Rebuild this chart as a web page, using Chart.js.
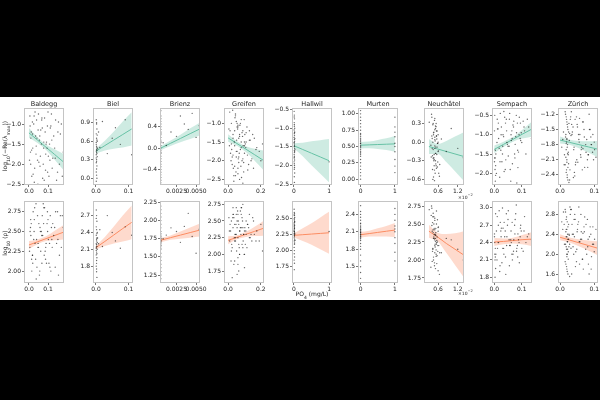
<!DOCTYPE html>
<html>
<head>
<meta charset="utf-8">
<script src="https://cdn.jsdelivr.net/npm/chart.js@4.4.0/dist/chart.umd.min.js"></script>
<style>
body { margin: 0; background: #000; width: 600px; height: 400px; overflow: hidden; position: relative; font-family: "DejaVu Sans", sans-serif; color: #222; }
#sheet { position: absolute; left: 0; top: 97px; width: 600px; height: 203px; background: #fff; }
canvas { position: absolute; z-index: 1; }
.title { position: absolute; font-size: 6.5px; width: 70px; text-align: center; top: 100px; z-index: 2; }
.lab { position: absolute; font-size: 6px; white-space: nowrap; z-index: 2; }
.lab sub { font-size: 4.5px; }
.off { position: absolute; font-size: 4.5px; z-index: 2; }
.off sup { font-size: 3.5px; }
</style>
</head>
<body>
<div id="sheet"></div>
<div class="lab" style="left:6px;top:146px;transform:translate(-50%,-50%) rotate(-90deg)">log<sub>10</sub>(−Re(λ<sub>max</sub>))</div>
<div class="lab" style="left:6px;top:243px;transform:translate(-50%,-50%) rotate(-90deg)">log<sub>10</sub> (ρ)</div>
<div class="lab" style="left:312px;top:295px;transform:translate(-50%,-50%)">PO<sub>4</sub> (mg/L)</div>
<div class="off" style="left:458px;top:193px">×10<sup>−2</sup></div>
<div class="off" style="left:458px;top:289px">×10<sup>−2</sup></div>
<script>
// Lakes (one column each)
const lakes = ['Baldegg', 'Biel', 'Brienz', 'Greifen', 'Hallwil', 'Murten', 'Neuchâtel', 'Sempach', 'Zürich'];

// PO4 per sample, log10(-Re(lambda_max)) and log10(rho) per sample
const baldeggX = [0.005,0.012,0.02,0.03,0.04,0.055,0.06,0.07,0.08,0.09,0.1,0.11,0.13,0.15,0.17,
  0.008,0.015,0.025,0.035,0.045,0.05,0.065,0.075,0.085,0.095,0.105,0.12,0.14,0.16,0.18,
  0.01,0.018,0.028,0.038,0.048,0.058,0.068,0.078,0.088,0.098,0.115,0.125,0.145,0.165,0.003,
  0.006,0.014,0.022,0.032,0.042,0.052,0.062,0.072,0.082,0.092,0.102,0.112,0.122,0.135,0.155,
  0.009,0.019,0.027,0.037,0.047,0.057,0.067,0.077,0.087,0.097,0.108,0.118,0.138,0.152,0.175];
const baldeggLam = [-0.8,-1.2,-1.6,-2.1,-0.9,-1.4,-1.8,-1.1,-2.4,-1.5,-0.7,-1.9,-1.3,-2.2,-1.0,
  -1.7,-2.3,-1.0,-1.3,-1.9,-0.75,-1.5,-2.0,-1.2,-1.6,-2.3,-1.4,-0.9,-2.0,-1.7,
  -1.35,-0.95,-2.45,-1.55,-1.15,-2.05,-0.85,-1.45,-1.75,-2.2,-1.05,-1.85,-2.4,-1.25,-1.9,
  -1.05,-1.65,-2.25,-0.7,-1.35,-1.95,-1.15,-2.35,-0.85,-1.45,-1.8,-1.1,-2.1,-1.6,-0.95,
  -2.0,-1.25,-0.8,-1.75,-2.5,-1.3,-0.9,-1.6,-2.15,-1.05,-1.5,-0.75,-1.85,-1.2,-2.3];
const baldeggRho = [2.3,2.6,2.1,2.8,2.4,1.95,2.5,2.7,2.2,2.35,2.65,2.05,2.45,2.75,2.3,
  2.55,2.0,2.4,2.15,2.7,2.3,2.5,2.85,2.25,2.6,2.1,2.4,2.75,2.2,2.55,
  2.45,2.2,2.65,1.9,2.35,2.55,2.1,2.8,2.3,2.5,2.0,2.6,2.35,2.7,2.25,
  2.5,2.15,2.75,2.35,2.05,2.6,2.25,2.45,2.8,2.1,2.4,2.7,2.3,2.55,1.95,
  2.65,2.2,2.5,2.85,2.3,2.0,2.45,2.6,2.15,2.75,2.35,2.55,2.05,2.4,2.7];

const bielX = [0.001,0.002,0.003,0.001,0.002,0.004,0.001,0.003,0.002,0.001,
  0.002,0.003,0.001,0.004,0.002,0.001,0.003,0.002,0.001,0.002,
  0.003,0.001,0.002,0.004,0.001,0.002,0.003,0.001,0.002,0.003,
  0.005,0.008,0.012,0.02,0.035,0.05,0.06,0.075,0.09,0.11];
const bielLam = [0.95,0.88,0.8,0.72,0.65,0.6,0.55,0.5,0.47,0.44,
  0.42,0.4,0.38,0.35,0.3,0.25,0.2,0.15,0.1,0.05,
  0.0,-0.05,0.9,0.7,0.58,0.52,0.45,0.33,0.27,0.62,
  0.48,0.75,0.5,0.92,0.4,0.65,0.82,0.55,0.95,0.38];
const bielRho = [2.8,2.7,2.6,2.5,2.45,2.4,2.35,2.3,2.25,2.2,
  2.18,2.15,2.12,2.1,2.05,2.0,1.95,1.9,1.8,1.7,
  1.6,2.65,2.28,2.22,2.08,1.85,2.38,2.14,1.75,2.02,
  2.3,2.2,2.45,2.15,2.7,2.4,2.25,2.12,2.5,2.35];

const brienzX = [0.0005,0.0005,0.0005,0.0005,0.0005,0.0005,0.0005,0.0005,0.0005,0.0005,
  0.0005,0.0005,0.0005,0.0005,0.0005,0.0005,0.0005,0.0005,0.0005,0.0005,
  0.0005,0.0005,0.0005,0.0005,0.0005,0.0005,0.0005,0.0005,0.0005,0.0005,
  0.0008,0.0012,0.0018,0.0025,0.003,0.0035,0.004,0.0045,0.005,0.0054];
const brienzLam = [0.7,0.6,0.5,0.45,0.4,0.35,0.3,0.25,0.2,0.15,
  0.1,0.05,0.0,-0.05,-0.1,-0.15,-0.2,-0.25,-0.3,-0.35,
  -0.4,-0.45,-0.5,-0.55,-0.6,-0.65,0.55,0.12,-0.08,0.28,
  0.1,0.05,0.3,0.22,0.6,0.45,0.35,0.65,0.2,0.42];
const brienzRho = [2.2,2.1,2.05,2.0,1.95,1.9,1.85,1.8,1.78,1.75,
  1.72,1.7,1.68,1.65,1.6,1.55,1.5,1.45,1.4,1.35,
  1.3,1.25,1.2,1.82,1.76,1.73,1.71,1.66,2.15,1.62,
  1.75,1.8,1.9,1.85,1.7,1.92,2.1,1.78,1.55,1.88];

const greifenX = [0.01,0.02,0.03,0.04,0.05,0.06,0.07,0.08,0.09,0.1,
  0.015,0.025,0.035,0.045,0.055,0.065,0.075,0.085,0.095,0.11,
  0.02,0.03,0.04,0.05,0.06,0.07,0.08,0.09,0.12,0.13,
  0.005,0.035,0.045,0.055,0.065,0.075,0.1,0.14,0.15,0.17,
  0.025,0.04,0.06,0.08,0.1,0.115,0.125,0.16,0.19,0.21,
  0.012,0.022,0.032,0.042,0.052,0.062,0.072,0.082,0.092,0.102,
  0.018,0.028,0.038,0.048,0.058,0.068,0.078,0.088,0.098,0.108,
  0.03,0.045,0.055,0.065,0.085,0.095,0.105,0.118,0.135,0.155,
  0.008,0.05,0.07,0.09,0.11,0.13,0.145,0.175,0.2,0.06];
const greifenLam = [-0.7,-1.0,-1.3,-1.6,-1.9,-2.2,-2.5,-0.9,-1.2,-1.5,
  -1.8,-2.1,-2.4,-0.8,-1.1,-1.4,-1.7,-2.0,-2.3,-1.25,
  -1.55,-1.85,-2.15,-0.95,-1.05,-1.35,-1.65,-1.95,-2.25,-1.45,
  -1.15,-2.55,-0.75,-1.75,-2.05,-1.0,-1.6,-2.0,-1.3,-1.7,
  -1.9,-1.2,-2.35,-1.5,-1.8,-1.1,-2.1,-1.4,-1.75,-1.55,
  -1.2,-1.7,-2.2,-0.85,-1.45,-1.95,-1.05,-2.45,-1.6,-1.3,
  -2.0,-0.65,-1.5,-2.3,-1.15,-1.8,-2.15,-1.35,-0.9,-1.65,
  -1.4,-2.4,-1.0,-1.9,-1.25,-2.05,-1.55,-1.85,-1.45,-2.2,
  -1.6,-1.75,-1.3,-2.6,-1.5,-1.2,-1.95,-1.65,-2.0,-1.1];
const greifenRho = [2.2,2.5,2.7,1.9,2.3,2.6,2.0,2.4,2.75,1.8,
  2.35,2.1,2.55,2.25,1.7,2.45,2.65,2.15,2.3,2.5,
  2.05,2.4,2.2,2.6,1.95,2.35,2.7,2.1,2.45,2.25,
  2.55,1.85,2.3,2.5,2.15,2.4,2.0,2.3,2.55,2.2,
  1.65,2.45,2.25,2.6,2.35,2.1,2.4,2.3,2.2,2.05,
  2.45,2.15,2.6,2.3,2.05,2.5,2.35,2.7,2.2,2.4,
  1.9,2.55,2.25,2.45,2.65,2.1,2.3,2.5,2.0,2.35,
  2.6,2.2,2.4,1.75,2.55,2.3,2.15,2.45,2.25,2.5,
  2.35,2.7,2.0,2.4,2.3,2.6,2.2,2.35,2.45,1.85];

const hallwilX = [0.005,0.01,0.015,0.008,0.012,0.02,0.006,0.018,0.01,0.014,
  0.004,0.011,0.016,0.009,0.013,0.007,0.019,0.01,0.015,0.006,
  0.012,0.008,0.017,0.005,0.014,0.01,0.02,0.009,0.013,0.007,
  0.011,0.016,0.006,0.012,0.018,0.008,0.01,0.015,0.025,0.03,
  1.0];
const hallwilLam = [-0.55,-0.65,-0.75,-0.85,-0.95,-1.0,-1.05,-1.1,-1.15,-1.2,
  -1.25,-1.3,-1.35,-1.4,-1.45,-1.5,-1.55,-1.6,-1.65,-1.7,
  -1.75,-1.8,-1.85,-1.9,-2.0,-2.1,-2.2,-2.3,-2.45,-0.7,
  -0.9,-1.12,-1.38,-1.48,-1.62,-1.78,-1.95,-2.05,-1.28,-1.58,
  -1.9];
const hallwilRho = [2.65,2.6,2.55,2.5,2.48,2.45,2.42,2.4,2.38,2.35,
  2.32,2.3,2.28,2.25,2.22,2.2,2.18,2.15,2.1,2.05,
  2.0,1.95,1.9,1.85,1.8,1.7,2.52,2.44,2.36,2.27,
  2.24,2.12,2.56,2.34,2.46,2.3,2.4,2.58,2.26,2.16,
  2.3];

const murtenX = [0,0,0,0,0,0,0,0,0,0,
  0,0,0,0,0,0,0,0,0,0,
  0,0,0,0,0,0,0,0,0,0,
  1,1,1,1,1,1,1,1,1,1];
const murtenLam = [1.05,1.0,0.95,0.9,0.85,0.8,0.75,0.7,0.65,0.6,
  0.55,0.5,0.45,0.4,0.35,0.3,0.25,0.2,0.15,0.1,
  0.05,0.0,0.62,0.48,0.52,0.58,0.42,0.68,0.38,0.55,
  0.95,0.8,0.65,0.55,0.5,0.42,0.3,0.2,0.1,0.72];
const murtenRho = [2.55,2.45,2.4,2.35,2.3,2.25,2.2,2.15,2.1,2.08,
  2.05,2.02,2.0,1.95,1.9,1.85,1.8,1.7,1.6,1.5,
  1.4,1.3,2.12,2.06,2.18,2.03,1.98,2.24,2.14,2.09,
  2.5,2.4,2.3,2.2,2.15,2.1,2.0,1.9,1.75,1.6];

// Neuchâtel PO4 is in units of 1e-2 mg/L
const neuchatelX = [0.4,0.45,0.5,0.55,0.6,0.42,0.48,0.52,0.58,0.62,
  0.44,0.5,0.54,0.46,0.56,0.38,0.6,0.47,0.53,0.49,
  0.41,0.57,0.51,0.45,0.55,0.43,0.59,0.5,0.52,0.48,
  0.33,0.64,0.46,0.54,0.5,0.7,0.85,1.0,1.2,1.37,
  0.41,0.44,0.47,0.5,0.53,0.56,0.59,0.43,0.46,0.49,
  0.52,0.55,0.58,0.61,0.45,0.48,0.51,0.54,0.57,0.42,
  0.5,0.53,0.47,0.55,0.44,0.6,0.39,0.65,0.52,0.49];
const neuchatelLam = [0.45,0.3,0.2,0.1,0.0,-0.1,-0.2,-0.3,-0.4,-0.5,
  -0.6,0.38,0.25,0.15,0.05,-0.05,-0.15,-0.25,-0.35,-0.45,
  0.1,-0.08,0.02,-0.12,0.18,-0.22,-0.02,0.08,-0.18,-0.28,
  0.32,-0.55,0.12,-0.38,-0.1,0.05,-0.15,0.22,-0.1,-0.25,
  0.4,0.28,0.16,0.04,-0.08,-0.2,-0.32,-0.44,-0.56,0.35,
  0.22,0.1,-0.02,-0.14,-0.26,-0.38,-0.5,0.3,0.18,0.06,
  -0.06,-0.18,-0.3,-0.42,0.0,0.12,-0.24,-0.36,0.26,-0.62];
const neuchatelRho = [2.75,2.65,2.55,2.5,2.45,2.4,2.35,2.3,2.25,2.2,
  2.15,2.1,2.05,2.0,1.95,1.9,1.85,2.6,2.38,2.28,
  2.48,2.32,2.18,2.42,2.22,2.52,2.12,2.36,2.26,2.44,
  2.7,1.8,2.3,2.08,2.2,2.1,2.3,2.28,2.15,2.0,
  2.72,2.6,2.5,2.42,2.34,2.27,2.2,2.12,2.04,1.96,
  1.88,2.68,2.56,2.46,2.38,2.3,2.22,2.14,2.06,1.98,
  2.58,2.44,2.32,2.24,2.16,2.4,2.62,2.1,2.35,1.92];

const sempachX = [0.002,0.005,0.01,0.015,0.02,0.025,0.03,0.035,0.04,0.045,
  0.05,0.055,0.06,0.065,0.07,0.075,0.08,0.085,0.09,0.095,
  0.1,0.11,0.12,0.135,0.003,0.008,0.012,0.018,0.028,0.038,
  0.048,0.058,0.068,0.078,0.088,0.098,0.105,0.115,0.125,0.004,
  0.022,0.042,0.062,0.082,0.032,
  0.001,0.006,0.011,0.016,0.021,0.026,0.031,0.036,0.041,0.046,
  0.051,0.056,0.061,0.066,0.071,0.076,0.081,0.086,0.091,0.096,
  0.002,0.004,0.003,0.001,0.005,0.014,0.024,0.034,0.044,0.054,
  0.064,0.074,0.084,0.094,0.108];
const sempachLam = [-0.5,-1.8,-1.2,-0.7,-2.1,-1.0,-1.5,-0.4,-1.9,-0.9,
  -1.3,-0.6,-2.2,-1.1,-0.8,-1.6,-0.5,-1.4,-1.0,-0.7,
  -1.2,-0.9,-0.6,-1.1,-1.6,-2.0,-0.85,-1.35,-1.7,-0.55,
  -1.25,-1.9,-0.75,-1.05,-1.45,-0.95,-0.65,-1.5,-0.8,-1.4,
  -0.45,-1.65,-1.15,-2.25,-1.0,
  -0.9,-1.5,-0.6,-1.1,-1.7,-0.8,-1.3,-1.95,-0.7,-1.2,
  -1.55,-0.45,-1.0,-1.75,-0.65,-1.25,-0.95,-1.85,-0.55,-1.15,
  -1.6,-2.2,-1.9,-1.7,-2.05,-0.85,-1.4,-1.05,-0.6,-1.3,
  -0.9,-1.5,-0.7,-1.1,-0.8];
const sempachRho = [2.4,2.9,2.1,2.7,1.9,2.5,3.0,2.2,2.6,2.35,
  2.8,2.0,2.45,2.75,2.25,2.55,3.05,2.15,2.4,2.65,
  2.3,2.85,2.5,2.45,1.8,2.6,2.3,2.95,2.05,2.5,
  2.7,2.35,2.2,2.9,2.45,2.6,2.25,2.4,2.55,2.15,
  2.75,1.85,2.4,2.3,2.65,
  2.55,2.2,2.85,2.4,2.0,2.65,2.3,2.75,2.15,2.5,
  2.95,2.35,2.6,2.1,2.45,2.8,2.25,2.55,2.05,2.7,
  2.2,2.3,2.1,2.5,1.95,2.4,2.6,2.3,2.9,2.45,
  2.2,2.7,2.35,2.5,2.6];

const zurichX = [0.015,0.018,0.02,0.022,0.025,0.016,0.019,0.021,0.024,0.017,
  0.02,0.023,0.018,0.021,0.026,0.03,0.035,0.04,0.045,0.05,
  0.055,0.06,0.065,0.07,0.075,0.08,0.085,0.09,0.095,0.1,
  0.105,0.01,0.005,0.028,0.033,0.038,0.042,0.048,0.052,0.058,
  0.062,0.068,0.072,0.078,0.082,0.088,0.092,0.098,0.012,0.027,
  0.032,0.043,0.057,0.067,0.11,
  0.016,0.019,0.021,0.023,0.017,0.02,0.022,0.018,0.024,0.02,
  0.015,0.019,0.021,0.023,0.026,0.028,0.018,0.022,0.025,0.02,
  0.031,0.036,0.041,0.046,0.051,0.056,0.061,0.066,0.071,0.076,
  0.081,0.086,0.091,0.096,0.101,0.008,0.013,0.029,0.034,0.039,
  0.044,0.049,0.054,0.063,0.083];
const zurichLam = [-1.15,-1.25,-1.35,-1.45,-1.55,-1.65,-1.75,-1.85,-1.95,-2.05,
  -2.15,-2.25,-2.35,-2.45,-2.55,-1.3,-1.6,-1.9,-2.2,-1.4,
  -1.7,-2.0,-2.3,-1.5,-1.8,-2.1,-1.2,-1.65,-1.95,-1.75,
  -2.05,-1.55,-1.85,-2.5,-1.15,-1.45,-2.35,-1.25,-2.15,-1.6,
  -1.9,-1.35,-2.25,-1.7,-2.0,-1.5,-1.8,-2.1,-2.2,-1.72,
  -1.62,-2.42,-1.28,-1.88,-1.98,
  -1.2,-1.3,-1.4,-1.5,-1.6,-1.7,-1.8,-1.9,-2.0,-2.1,
  -2.2,-2.3,-2.4,-2.5,-1.38,-1.58,-1.78,-1.98,-2.18,-1.68,
  -1.25,-1.55,-1.85,-2.15,-1.45,-1.75,-2.05,-1.35,-1.65,-1.95,
  -2.25,-1.5,-1.8,-1.6,-1.9,-1.7,-2.0,-2.3,-1.4,-2.45,
  -1.3,-2.1,-1.6,-1.85,-2.0];
const zurichRho = [2.9,2.7,2.5,2.4,2.3,2.2,2.1,2.0,1.9,1.8,
  1.7,1.6,2.35,2.25,2.15,2.8,2.6,2.0,1.75,2.45,
  2.95,2.3,1.9,2.55,2.1,2.7,1.6,2.4,2.2,2.05,
  2.5,2.85,2.65,1.55,2.9,2.15,2.35,1.85,2.6,2.25,
  2.45,1.7,2.75,2.0,2.3,2.55,1.95,2.2,2.6,2.38,
  2.12,2.8,1.8,2.42,2.25,
  2.85,2.75,2.65,2.55,2.45,2.35,2.25,2.15,2.05,1.95,
  1.85,1.75,1.65,2.3,2.4,2.2,2.5,2.1,2.6,2.0,
  2.9,2.4,2.7,2.05,2.5,2.25,2.8,1.9,2.45,2.6,
  2.15,2.35,1.7,2.55,2.3,2.5,2.2,2.95,1.6,2.4,
  2.7,2.1,2.65,2.3,1.8];

// Regression fits: x positions, fitted line, lower and upper 95% band
const baldeggFitX = [0, 0.045, 0.09, 0.135, 0.18];
const bielFitX = [0, 0.0275, 0.055, 0.0825, 0.11];
const brienzFitX = [0.0005, 0.00175, 0.003, 0.00425, 0.0055];
const greifenFitX = [0, 0.054, 0.108, 0.162, 0.215];
const hallwilFitX = [0, 0.25, 0.5, 0.75, 1.0];
const murtenFitX = [0, 0.25, 0.5, 0.75, 1.0];
const neuchatelFitX = [0.32, 0.585, 0.85, 1.115, 1.38];
const sempachFitX = [0, 0.034, 0.068, 0.101, 0.135];
const zurichFitX = [0, 0.0275, 0.055, 0.0825, 0.11];

const lamFit = [[-1.22,-1.40,-1.58,-1.76,-1.94], [0.44,0.53,0.62,0.71,0.80], [0.0,0.09,0.18,0.27,0.36],
  [-1.39,-1.54,-1.69,-1.84,-1.99], [-1.47,-1.57,-1.67,-1.77,-1.87], [0.52,0.525,0.53,0.535,0.54],
  [-0.07,-0.11,-0.15,-0.19,-0.23], [-1.38,-1.25,-1.12,-0.99,-0.86], [-1.71,-1.755,-1.80,-1.845,-1.89]];
const lamLo = [[-1.34,-1.47,-1.65,-1.89,-2.14], [0.40,0.45,0.48,0.50,0.53], [-0.04,0.04,0.11,0.17,0.24],
  [-1.49,-1.60,-1.77,-2.00,-2.25], [-1.54,-1.75,-1.99,-2.22,-2.45], [0.47,0.475,0.46,0.445,0.42],
  [-0.19,-0.19,-0.32,-0.47,-0.62], [-1.48,-1.32,-1.18,-1.10,-1.05], [-1.78,-1.805,-1.87,-1.955,-2.05]];
const lamHi = [[-1.10,-1.33,-1.51,-1.63,-1.74], [0.48,0.61,0.76,0.92,1.07], [0.04,0.14,0.25,0.37,0.48],
  [-1.29,-1.48,-1.61,-1.68,-1.73], [-1.40,-1.39,-1.35,-1.32,-1.29], [0.57,0.575,0.60,0.625,0.66],
  [0.05,-0.03,0.02,0.09,0.16], [-1.28,-1.18,-1.06,-0.88,-0.67], [-1.64,-1.705,-1.73,-1.735,-1.73]];

const rhoFit = [[2.33,2.37,2.41,2.45,2.49], [2.13,2.24,2.355,2.47,2.58], [1.73,1.765,1.80,1.835,1.87],
  [2.21,2.255,2.30,2.345,2.39], [2.24,2.25,2.26,2.27,2.28], [2.05,2.07,2.09,2.11,2.13],
  [2.40,2.32,2.23,2.15,2.07], [2.41,2.42,2.435,2.45,2.46], [2.34,2.285,2.23,2.175,2.12]];
const rhoLo = [[2.28,2.34,2.38,2.39,2.40], [2.10,2.16,2.205,2.24,2.28], [1.70,1.735,1.75,1.765,1.78],
  [2.15,2.225,2.26,2.275,2.28], [2.21,2.15,2.09,2.02,1.95], [2.0,2.02,2.02,2.02,2.01],
  [2.31,2.26,2.10,1.93,1.76], [2.34,2.37,2.385,2.37,2.34], [2.28,2.235,2.16,2.075,1.98]];
const rhoHi = [[2.38,2.40,2.44,2.51,2.58], [2.16,2.32,2.505,2.70,2.88], [1.76,1.795,1.85,1.905,1.96],
  [2.27,2.285,2.34,2.415,2.50], [2.27,2.35,2.43,2.52,2.61], [2.10,2.12,2.16,2.20,2.25],
  [2.49,2.38,2.36,2.37,2.40], [2.48,2.47,2.485,2.53,2.58], [2.40,2.335,2.30,2.275,2.26]];

// Axis limits and tick labels
const xLims = [[-0.026,0.184], [-0.009,0.114], [0.0004,0.0055], [-0.025,0.219], [-0.056,1.083],
  [-0.075,1.09], [0.17,1.39], [-0.008,0.137], [-0.006,0.111]];
const xTicks = [[0,0.1], [0,0.1], [0.0025,0.005], [0,0.2], [0,1], [0,1], [0.6,1.2], [0,0.1], [0,0.1]];
const xDec = [1, 1, 4, 1, 0, 0, 1, 1, 1];

const lamLims = [[-2.52,-0.6], [-0.11,1.14], [-0.69,0.75], [-2.65,-0.59], [-2.52,-0.46],
  [-0.09,1.09], [-0.69,0.55], [-2.30,-0.31], [-2.6,-1.075]];
const lamTicks = [[-2.5,-2,-1.5,-1], [0,0.3,0.6,0.9], [-0.4,0,0.4], [-2.5,-2,-1.5,-1], [-2.5,-2,-1.5,-1,-0.5],
  [0,0.25,0.5,0.75,1], [-0.6,-0.3,0,0.3], [-2,-1.5,-1,-0.5], [-2.4,-2.1,-1.8,-1.5,-1.2]];
const lamDec = [1, 1, 1, 1, 1, 2, 1, 1, 1];

const rhoLims = [[1.85,2.885], [1.50,2.96], [1.14,2.27], [1.57,2.80], [1.49,2.78],
  [1.22,2.63], [1.68,2.82], [1.70,3.12], [1.42,3.07]];
const rhoTicks = [[2,2.25,2.5,2.75], [1.8,2.1,2.4,2.7], [1.25,1.5,1.75,2,2.25], [1.75,2,2.25,2.5,2.75],
  [1.75,2,2.25,2.5], [1.5,1.8,2.1,2.4], [1.75,2,2.25,2.5,2.75], [1.8,2.1,2.4,2.7,3.0], [1.6,2.0,2.4,2.8]];
const rhoDec = [2, 1, 2, 2, 2, 1, 2, 1, 1];

const xs = [baldeggX, bielX, brienzX, greifenX, hallwilX, murtenX, neuchatelX, sempachX, zurichX];
const lamY = [baldeggLam, bielLam, brienzLam, greifenLam, hallwilLam, murtenLam, neuchatelLam, sempachLam, zurichLam];
const rhoY = [baldeggRho, bielRho, brienzRho, greifenRho, hallwilRho, murtenRho, neuchatelRho, sempachRho, zurichRho];
const fitXs = [baldeggFitX, bielFitX, brienzFitX, greifenFitX, hallwilFitX, murtenFitX, neuchatelFitX, sempachFitX, zurichFitX];

// Layout of the grid of axes
const COLS = [24, 93, 160, 224, 292, 358, 424, 492, 558];
const W = 40;
const ROWS = [{ top: 108, h: 77 }, { top: 201, h: 82 }];
const ML = 28, MR = 12, MT = 6, MB = 14;

function fmt(v, d) {
    return v.toFixed(d).replace('-', '\u2212');
}

// matplotlib-like box around each axes
const framePlugin = {
    id: 'frame',
    afterDatasetsDraw(chart) {
        const a = chart.chartArea;
        const c = chart.ctx;
        c.save();
        c.strokeStyle = '#c4c4c4';
        c.lineWidth = 1;
        c.strokeRect(Math.round(a.left) + 0.5, Math.round(a.top) + 0.5,
            Math.round(a.right - a.left) - 1, Math.round(a.bottom - a.top) - 1);
        c.restore();
    }
};

const tickFont = { family: 'DejaVu Sans', size: 6 };

function addPanel(i, row) {
    const L = COLS[i], T = ROWS[row].top, H = ROWS[row].h;
    const cv = document.createElement('canvas');
    cv.width = W + ML + MR;
    cv.height = H + MT + MB;
    cv.style.left = (L - ML) + 'px';
    cv.style.top = (T - MT) + 'px';
    document.body.appendChild(cv);

    const ys = row === 0 ? lamY[i] : rhoY[i];
    const fit = row === 0 ? lamFit[i] : rhoFit[i];
    const lo = row === 0 ? lamLo[i] : rhoLo[i];
    const hi = row === 0 ? lamHi[i] : rhoHi[i];
    const yl = row === 0 ? lamLims[i] : rhoLims[i];
    const yt = row === 0 ? lamTicks[i] : rhoTicks[i];
    const yd = row === 0 ? lamDec[i] : rhoDec[i];
    const color = row === 0 ? '#66c2a5' : '#fc8d62';
    const band = row === 0 ? 'rgba(102,194,165,0.32)' : 'rgba(252,141,98,0.32)';

    const pts = xs[i].map((x, k) => ({ x: x, y: ys[k] }));
    const fx = fitXs[i];
    const none = 'rgba(0,0,0,0)';

    new Chart(cv, {
        type: 'scatter',
        data: {
            datasets: [
                { data: pts, pointRadius: 0.7, pointBackgroundColor: 'rgba(0,0,0,0.6)', pointBorderWidth: 0 },
                { data: fx.map((x, k) => ({ x: x, y: hi[k] })), showLine: true, pointRadius: 0,
                  borderColor: none, borderWidth: 1, fill: '+1', backgroundColor: band, cubicInterpolationMode: 'monotone' },
                { data: fx.map((x, k) => ({ x: x, y: lo[k] })), showLine: true, pointRadius: 0,
                  borderColor: none, borderWidth: 1, fill: false, cubicInterpolationMode: 'monotone' },
                { data: fx.map((x, k) => ({ x: x, y: fit[k] })), showLine: true, pointRadius: 0,
                  borderColor: color, borderWidth: 1, fill: false }
            ]
        },
        options: {
            responsive: false,
            animation: false,
            devicePixelRatio: 1,
            layout: { padding: { top: MT, right: MR, left: 0, bottom: 0 } },
            plugins: { legend: { display: false }, tooltip: { enabled: false } },
            scales: {
                x: {
                    type: 'linear', min: xLims[i][0], max: xLims[i][1],
                    afterFit: s => { s.height = MB; },
                    afterBuildTicks: s => { s.ticks = xTicks[i].map(v => ({ value: v })); },
                    ticks: { callback: v => fmt(v, xDec[i]), font: tickFont, color: '#222', padding: 1, maxRotation: 0, autoSkip: false },
                    grid: { drawOnChartArea: false, color: none, tickColor: '#777', tickLength: 2 },
                    border: { display: false }
                },
                y: {
                    type: 'linear', min: yl[0], max: yl[1],
                    afterFit: s => { s.width = ML; },
                    afterBuildTicks: s => { s.ticks = yt.map(v => ({ value: v })); },
                    ticks: { callback: v => fmt(v, yd), font: tickFont, color: '#222', padding: 1, autoSkip: false },
                    grid: { drawOnChartArea: false, color: none, tickColor: '#777', tickLength: 2 },
                    border: { display: false }
                }
            }
        },
        plugins: [framePlugin]
    });
}

document.addEventListener('DOMContentLoaded', function() {
    lakes.forEach((name, i) => {
        const t = document.createElement('div');
        t.className = 'title';
        t.textContent = name;
        t.style.left = (COLS[i] + W / 2 - 35) + 'px';
        document.body.appendChild(t);
        addPanel(i, 0);
        addPanel(i, 1);
    });
});
</script>
</body>
</html>
